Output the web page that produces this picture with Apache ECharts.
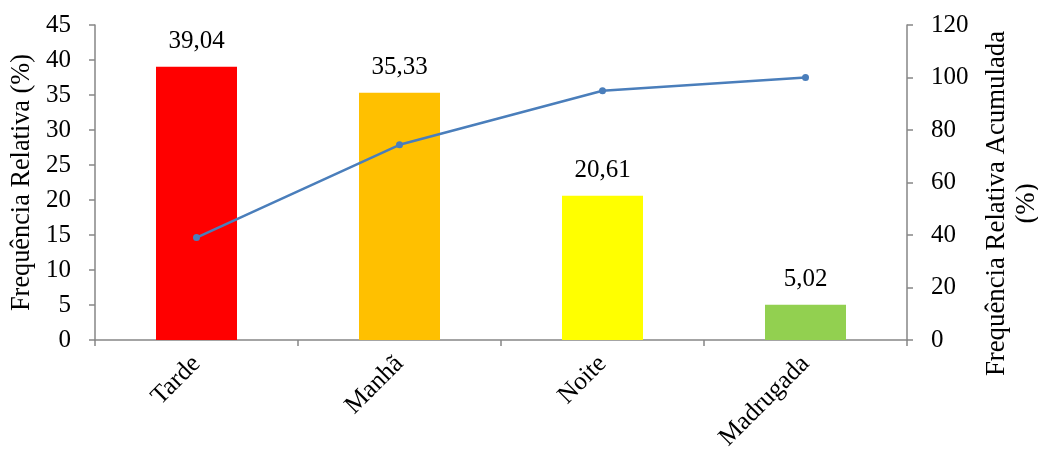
<!DOCTYPE html>
<html><head><meta charset="utf-8">
<script src="https://cdn.jsdelivr.net/npm/echarts@6/dist/echarts.min.js"></script>
<style>html,body{margin:0;padding:0;background:#fff}#c{width:1038px;height:456px}</style>
</head><body><div id="c"></div>
<script>
var categories = ['Tarde', 'Manhã', 'Noite', 'Madrugada'];
var relFreq = [39.04, 35.33, 20.61, 5.02];
var cumFreq = [39.04, 74.37, 94.98, 100];
var barColors = ['#FF0000', '#FFC000', '#FFFF00', '#92D050'];
var leftTicks = [0, 45, 5];
var rightTicks = [0, 120, 20];

var FONT = '"Liberation Serif", "Times New Roman", serif';
var axisGray = '#868686';
var chart = echarts.init(document.getElementById('c'), null, {renderer: 'canvas'});
chart.setOption({
  animation: false,
  grid: {left: 95, right: 131, top: 25, bottom: 116, containLabel: false, outerBoundsMode: 'none'},
  xAxis: {
    type: 'category', data: categories,
    axisLine: {lineStyle: {color: axisGray, width: 1.5}},
    axisTick: {show: true, length: 6, alignWithLabel: false, lineStyle: {color: axisGray, width: 1.5}},
    axisLabel: {rotate: 45, color: '#000', fontFamily: FONT, fontSize: 25.5, margin: 20}
  },
  yAxis: [{
    type: 'value', min: leftTicks[0], max: leftTicks[1], interval: leftTicks[2],
    name: 'Frequência Relativa (%)', nameLocation: 'middle', nameGap: 58, nameRotate: 90,
    nameTextStyle: {color: '#000', fontFamily: FONT, fontSize: 26.3},
    axisLine: {show: true, lineStyle: {color: axisGray, width: 1.5}},
    axisTick: {show: true, length: 6, lineStyle: {color: axisGray, width: 1.5}},
    axisLabel: {color: '#000', fontFamily: FONT, fontSize: 25, margin: 24},
    splitLine: {show: false}
  }, {
    type: 'value', min: rightTicks[0], max: rightTicks[1], interval: rightTicks[2], position: 'right',
    name: 'Frequência Relativa Acumulada\n(%)', nameLocation: 'middle', nameGap: 75, nameRotate: 90,
    nameTextStyle: {color: '#000', fontFamily: FONT, fontSize: 26.8, lineHeight: 30, padding: [0, 42, 0, 0]},
    axisLine: {show: true, lineStyle: {color: axisGray, width: 1.5}},
    axisTick: {show: true, length: 6, lineStyle: {color: axisGray, width: 1.5}},
    axisLabel: {color: '#000', fontFamily: FONT, fontSize: 25, margin: 24},
    splitLine: {show: false}
  }],
  series: [{
    type: 'bar', yAxisIndex: 0, barWidth: 81,
    data: relFreq.map(function (v, i) { return {value: v, itemStyle: {color: barColors[i]}}; }),
    label: {show: true, position: 'top', distance: 13, color: '#000', fontFamily: FONT, fontSize: 25,
      formatter: function (p) { return p.value.toFixed(2).replace('.', ','); }}
  }, {
    type: 'line', yAxisIndex: 1, data: cumFreq,
    symbol: 'circle', symbolSize: 7,
    lineStyle: {color: '#4A7EBB', width: 2.5},
    itemStyle: {color: '#4A7EBB'}
  }]
});
</script></body></html>
